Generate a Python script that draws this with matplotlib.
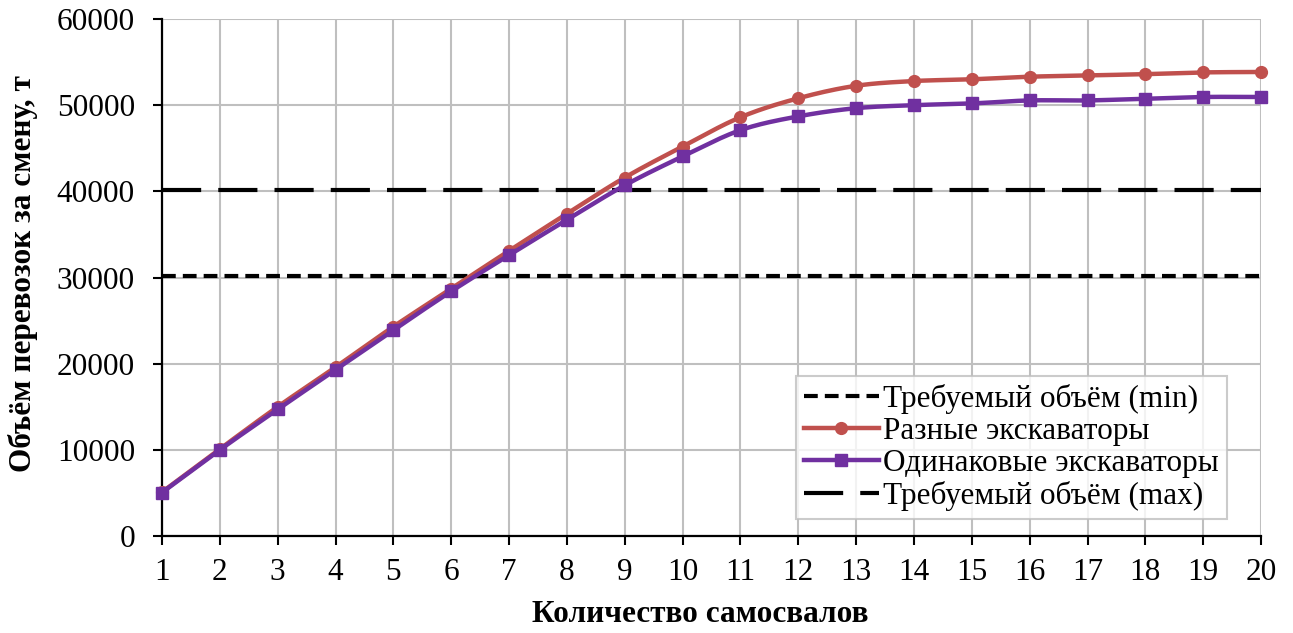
import numpy as np
import matplotlib.pyplot as plt
from matplotlib.lines import Line2D

trucks = list(range(1, 21))
raznye = [5100, 10100, 15000, 19600, 24300, 28700, 33100, 37400, 41600, 45200,
          48600, 50800, 52250, 52800, 53000, 53300, 53450, 53600, 53800, 53850]
odinak = [5050, 10000, 14700, 19300, 23900, 28400, 32600, 36700, 40700, 44050,
          47100, 48700, 49650, 50000, 50200, 50550, 50550, 50750, 50950, 50950]
req_min = 30200
req_max = 40200


def smooth(x, y, n=20):
    # catmull-rom curve through the points, like Excel's smoothed lines
    x = np.asarray(x, float)
    y = np.asarray(y, float)
    px = np.concatenate([[2 * x[0] - x[1]], x, [2 * x[-1] - x[-2]]])
    py = np.concatenate([[2 * y[0] - y[1]], y, [2 * y[-1] - y[-2]]])
    xs, ys = [], []
    t = np.linspace(0, 1, n, endpoint=False)
    for i in range(1, len(px) - 2):
        for p, out in ((px, xs), (py, ys)):
            p0, p1, p2, p3 = p[i - 1], p[i], p[i + 1], p[i + 2]
            out.extend(0.5 * (2 * p1 + (-p0 + p2) * t
                              + (2 * p0 - 5 * p1 + 4 * p2 - p3) * t ** 2
                              + (-p0 + 3 * p1 - 3 * p2 + p3) * t ** 3))
    xs.append(x[-1])
    ys.append(y[-1])
    return np.array(xs), np.array(ys)


plt.rcParams['font.family'] = ['Liberation Serif', 'DejaVu Serif']
fs = 22.5

red = '#C0504D'
purple = '#7030A0'

fig = plt.figure(figsize=(12.93, 6.33), dpi=100)
ax = fig.add_axes([0.1253, 0.1532, 0.85, 0.8168])

min_dash = (0, (3.3, 1.7))
max_dash = (0, (9.4, 4.1))

ax.axhline(req_min, color='black', lw=3, linestyle=min_dash, zorder=3)
ax.axhline(req_max, color='black', lw=3, linestyle=max_dash, zorder=3)

sx, sy = smooth(trucks, raznye)
ax.plot(sx, sy, color=red, lw=3.2, zorder=4)
ax.plot(trucks, raznye, 'o', color=red, ms=8.5, zorder=4, clip_on=False)
sx, sy = smooth(trucks, odinak)
ax.plot(sx, sy, color=purple, lw=3.2, zorder=5)
ax.plot(trucks, odinak, 's', color=purple, ms=8.5, zorder=5, clip_on=False)

ax.set_xlim(1, 20)
ax.set_ylim(0, 60000)
ax.set_xticks(trucks)
ax.set_yticks(range(0, 60001, 10000))
ax.grid(True, color='#BFBFBF', lw=1.5)
ax.set_axisbelow(True)
for s in ['top', 'right']:
    ax.spines[s].set_visible(False)
for s in ['left', 'bottom']:
    ax.spines[s].set_linewidth(1.6)
ax.tick_params(labelsize=fs, direction='out', length=6.5, width=1.5)
ax.tick_params(axis='x', pad=9)
ax.tick_params(axis='y', pad=13)
ax.set_xlabel('Количество самосвалов', fontsize=fs, fontweight='bold')
ax.set_ylabel('Объём перевозок за смену, т', fontsize=fs, fontweight='bold')
ax.xaxis.set_label_coords(0.49, -0.124)
ax.yaxis.set_label_coords(-0.113, 0.508)

handles = [
    Line2D([], [], color='black', lw=3, linestyle=min_dash),
    Line2D([], [], color=red, lw=3.2, marker='o', ms=8.5),
    Line2D([], [], color=purple, lw=3.2, marker='s', ms=8.5),
    Line2D([], [], color='black', lw=3, linestyle=max_dash),
]
labels = ['Требуемый объём (min)', 'Разные экскаваторы',
          'Одинаковые экскаваторы', 'Требуемый объём (max)']
leg = ax.legend(handles, labels, loc='lower right', bbox_to_anchor=(0.969, 0.033),
                fontsize=fs, frameon=True, fancybox=False, edgecolor='#BFBFBF',
                handlelength=2.4, handletextpad=0.15, labelspacing=0.1,
                borderpad=0.25, borderaxespad=0)
leg.get_frame().set_linewidth(1.5)

plt.savefig('out.png', dpi=100)
